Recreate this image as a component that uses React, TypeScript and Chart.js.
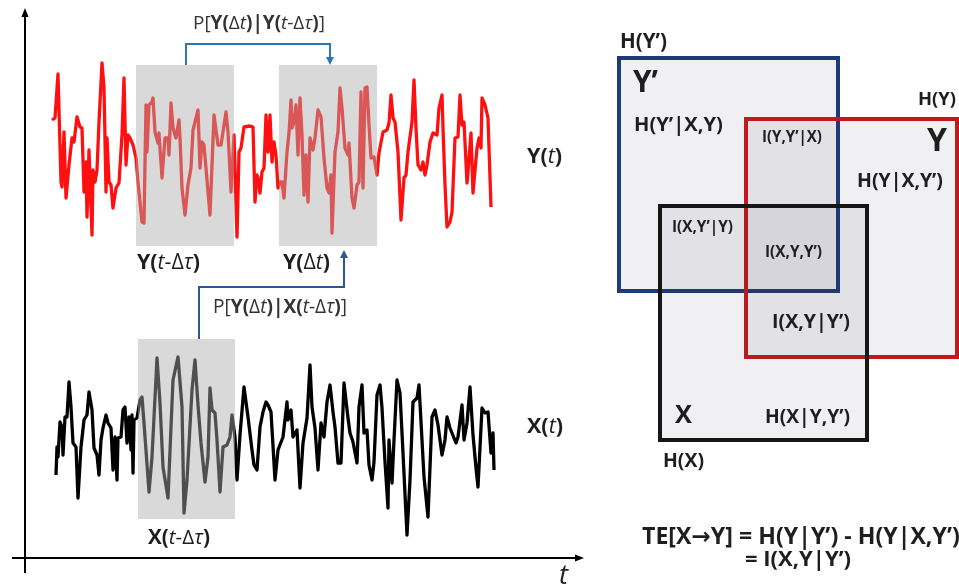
import { useEffect, useRef } from 'react';
import { Chart, registerables } from 'chart.js';

Chart.register(...registerables);

// ---- Data: time series (t = time step, v = signal level) ----
const redSeries: [number, number][] = [
  [2, 30], [5, 32], [8, 76], [11, -32], [12, -37], [14, 18], [16, -48], [19, -15], [22, 12], [24, 8],
  [27, 33], [30, 23], [32, 22], [34, -42], [36, -12], [37, -67], [39, 0], [42, -85], [43, -20], [45, -32],
  [47, -20], [49, 28], [52, 87], [54, 62], [56, -42], [57, 12], [59, -32], [61, -35], [63, -58], [66, -38],
  [69, -33], [72, 15], [74, 72], [76, -15], [78, 15], [80, 12], [83, 5], [86, -8], [88, -32], [92, -72],
  [94, -73], [96, 45], [97, -2], [99, 45], [102, 48], [103, 52], [105, 18], [108, 7], [109, 17], [112, -28],
  [115, 12], [118, 12], [119, -5], [121, 47], [123, 22], [126, 12], [129, 30], [130, 12], [132, -38], [135, -65],
  [138, -35], [141, -18], [143, 20], [146, 32], [148, 40], [150, -18], [152, 8], [154, 5], [160, -65], [164, 35],
  [168, 5], [171, 5], [176, 38], [178, 18], [181, -42], [184, 15], [187, -87], [189, -2], [191, 2], [194, 23],
  [200, 24], [203, 23], [205, -52], [207, -25], [208, -28], [210, -43], [212, -22], [214, -18], [216, 35], [218, -2],
  [220, 35], [222, -12], [224, 8], [226, -5], [228, -38], [230, -32], [232, -32], [234, -48], [237, -2], [239, 17],
  [241, 50], [242, 22], [244, 28], [246, 45], [248, -5], [250, 52], [252, 15], [254, -45], [256, -5], [258, -52],
  [260, 12], [263, 0], [265, 12], [268, 40], [271, 33], [274, -8], [277, -38], [279, -43], [281, -25], [282, -83],
  [285, -2], [288, 18], [290, 62], [292, 42], [295, 2], [298, -5], [299, 7], [302, -48], [304, -58], [307, -35],
  [309, -32], [311, 58], [313, -38], [315, 62], [317, 63], [319, 25], [321, -8], [324, -7], [327, -25], [329, -3],
  [333, 18], [337, 20], [339, 27], [341, 55], [343, 32], [345, 28], [348, -2], [351, -70], [354, -28], [356, -25],
  [358, -2], [362, 28], [364, 70], [366, 22], [368, -15], [371, -20], [373, -12], [375, -25], [377, -15], [380, 8],
  [383, 17], [387, 15], [389, 42], [392, 55], [393, 22], [395, -35], [397, -77], [400, -72], [402, -62], [405, 12],
  [408, 13], [410, 55], [412, 25], [414, 28], [417, -33], [418, -22], [421, 17], [423, -43], [427, 2], [429, 12],
  [431, 2], [432, 52], [435, 45], [438, 32], [441, -57],
];

const blackSeries: [number, number][] = [
  [6, -35], [7, -7], [8, -17], [10, 18], [12, 13], [13, -15], [15, 23], [17, 23], [19, 58], [21, 33],
  [23, -3], [26, -7], [28, -58], [31, -7], [34, 20], [37, 25], [39, 48], [42, 30], [44, -8], [47, -15],
  [49, -35], [51, 0], [53, 12], [56, 25], [58, 17], [61, 12], [63, -30], [65, 3], [67, -40], [68, 2],
  [71, 3], [73, 30], [75, 33], [77, -3], [79, 23], [81, -10], [82, 25], [83, -33], [84, 20], [87, 22],
  [90, 40], [92, 43], [94, 17], [99, -52], [102, -17], [107, 82], [110, 37], [113, -27], [118, -58], [123, 60],
  [128, 83], [132, 33], [134, -73], [137, -40], [142, 50], [145, 80], [148, 35], [151, -3], [155, -42], [158, -17],
  [160, 52], [162, 30], [165, 27], [167, 0], [170, -52], [173, -7], [177, -5], [180, 3], [182, 25], [185, 3],
  [187, -40], [190, 5], [194, 53], [198, 23], [202, -10], [204, -25], [207, -30], [210, 13], [213, 28], [216, 38],
  [218, 35], [221, 28], [225, -40], [228, -10], [233, 3], [237, 38], [238, 20], [241, 30], [243, 3], [247, 10],
  [250, -48], [253, -3], [257, 22], [260, 75], [262, 33], [265, 12], [268, -30], [271, 17], [274, 3], [277, 38],
  [280, 55], [283, 28], [285, 13], [288, -23], [291, -23], [294, 57], [298, 22], [300, 7], [303, -2], [307, -23],
  [309, 33], [312, 55], [314, 7], [317, 10], [319, -25], [322, -40], [324, -22], [327, 45], [330, 55], [332, 32],
  [335, -22], [338, -68], [339, 0], [342, -43], [344, 0], [347, 60], [350, 47], [353, -13], [357, -95], [360, -40],
  [363, 38], [367, 42], [369, 55], [372, 0], [374, -37], [378, -77], [382, 23], [385, 30], [388, 15], [392, -15],
  [395, 0], [397, 23], [400, 12], [402, 7], [406, -3], [408, 3], [412, 35], [414, 0], [417, 17], [420, 53],
  [423, 5], [426, -28], [428, -47], [432, 32], [435, 27], [438, 28], [441, -13], [443, 7], [444, -30],
];

// time windows (t from, t to) highlighted in grey
const yWindowPast: [number, number] = [86, 184];
const yWindowNow: [number, number] = [229, 327];
const xWindowPast: [number, number] = [88, 185];

// ---- Layout (diagram pixel units) ----
const FAMILY = '"Open Sans", "DejaVu Sans", sans-serif';
const TEXT = '#1e1e1e';
const VENN = [
  { x1: 619, y1: 58, x2: 838, y2: 291, color: '#1f3a78' },
  { x1: 746, y1: 119, x2: 957, y2: 357, color: '#c01a1f' },
  { x1: 660, y1: 206, x2: 867, y2: 440, color: '#161616' },
];

type Seg = [string, string];

// draws mixed-style text; font size is chosen so the text spans `width` px
function rich(ctx: CanvasRenderingContext2D, segs: Seg[], x: number, y: number, width: number, color = TEXT) {
  const fontAt = (s: string, size: number) => `${s.includes('i') ? 'italic ' : ''}${s.includes('b') ? 'bold ' : ''}${size}px ${FAMILY}`;
  const base = 20;
  let nat = 0;
  segs.forEach(([t, s]) => { ctx.font = fontAt(s, base); nat += ctx.measureText(t).width; });
  const size = base * width / nat;
  let cx = x;
  ctx.fillStyle = color;
  ctx.textBaseline = 'middle';
  ctx.textAlign = 'left';
  segs.forEach(([t, s]) => {
    ctx.font = fontAt(s, size);
    ctx.fillText(t, cx, y);
    cx += ctx.measureText(t).width;
  });
}

function arrowHead(ctx: CanvasRenderingContext2D, tx: number, ty: number, dir: 'up' | 'down' | 'right', len: number, half: number, color: string) {
  ctx.fillStyle = color;
  ctx.beginPath();
  ctx.moveTo(tx, ty);
  if (dir === 'up') { ctx.lineTo(tx - half, ty + len); ctx.lineTo(tx + half, ty + len); }
  if (dir === 'down') { ctx.lineTo(tx - half, ty - len); ctx.lineTo(tx + half, ty - len); }
  if (dir === 'right') { ctx.lineTo(tx - len, ty - half); ctx.lineTo(tx - len, ty + half); }
  ctx.closePath();
  ctx.fill();
}

const diagramPlugin = {
  id: 'diagram',
  beforeDatasetsDraw(chart: any) {
    const ctx: CanvasRenderingContext2D = chart.ctx;
    const X = (v: number) => chart.scales.xD.getPixelForValue(v);
    const Y = (v: number) => chart.scales.yD.getPixelForValue(v);
    ctx.save();
    ctx.strokeStyle = '#000';
    ctx.lineWidth = 2;
    ctx.beginPath();
    ctx.moveTo(X(25), Y(573));
    ctx.lineTo(X(25), Y(16));
    ctx.moveTo(X(12), Y(558));
    ctx.lineTo(X(576), Y(558));
    ctx.stroke();
    arrowHead(ctx, X(25), Y(8), 'up', 9, 3.5, '#000');
    arrowHead(ctx, X(584), Y(558), 'right', 9, 3.5, '#000');
    rich(ctx, [['t', 'i']], X(559), Y(576), 9, '#222');
    ctx.restore();
  },
  afterDatasetsDraw(chart: any) {
    const ctx: CanvasRenderingContext2D = chart.ctx;
    const X = (v: number) => chart.scales.xD.getPixelForValue(v);
    const Y = (v: number) => chart.scales.yD.getPixelForValue(v);
    const xT = chart.scales.xT, yR = chart.scales.yR, yB = chart.scales.yB;
    ctx.save();
    // grey windows drawn over the series
    ctx.fillStyle = 'rgba(173,173,173,0.46)';
    const box = (w: [number, number], ys: any, top: number, bottom: number) => {
      const l = xT.getPixelForValue(w[0]);
      const r = xT.getPixelForValue(w[1]);
      const t = ys.getPixelForValue(top);
      const b = ys.getPixelForValue(bottom);
      ctx.fillRect(l, t, r - l, b - t);
    };
    box(yWindowPast, yR, 85, -96);
    box(yWindowNow, yR, 85, -96);
    box(xWindowPast, yB, 101, -79);

    // connectors
    ctx.lineWidth = 2;
    ctx.strokeStyle = '#2e75b6';
    ctx.beginPath();
    ctx.moveTo(X(186), Y(65));
    ctx.lineTo(X(186), Y(44));
    ctx.lineTo(X(330), Y(44));
    ctx.lineTo(X(330), Y(58));
    ctx.stroke();
    arrowHead(ctx, X(330), Y(65), 'down', 8, 4, '#2e75b6');

    ctx.strokeStyle = '#2f5597';
    ctx.beginPath();
    ctx.moveTo(X(199), Y(339));
    ctx.lineTo(X(199), Y(287));
    ctx.lineTo(X(344), Y(287));
    ctx.lineTo(X(344), Y(258));
    ctx.stroke();
    arrowHead(ctx, X(344), Y(250), 'up', 8, 4, '#2f5597');

    // left-panel labels
    rich(ctx, [['P[', 'r'], ['Y(', 'b'], ['Δ', 'r'], ['t', 'i'], [')', 'b'], ['|', 'b'], ['Y(', 'b'], ['t', 'i'], ['-Δ', 'r'], ['τ', 'i'], [')', 'b'], [']', 'r']], X(193), Y(24), 132, '#333');
    rich(ctx, [['P[', 'r'], ['Y(', 'b'], ['Δ', 'r'], ['t', 'i'], [')', 'b'], ['|', 'b'], ['X(', 'b'], ['t', 'i'], ['-Δ', 'r'], ['τ', 'i'], [')', 'b'], [']', 'r']], X(213), Y(308), 134, '#333');
    rich(ctx, [['Y(', 'b'], ['t', 'i'], ['-Δ', 'r'], ['τ', 'i'], [')', 'b']], X(137), Y(263), 63);
    rich(ctx, [['Y(', 'b'], ['Δ', 'r'], ['t', 'i'], [')', 'b']], X(283), Y(263), 47);
    rich(ctx, [['X(', 'b'], ['t', 'i'], ['-Δ', 'r'], ['τ', 'i'], [')', 'b']], X(148), Y(538), 62);
    rich(ctx, [['Y(', 'b'], ['t', 'i'], [')', 'b']], X(527), Y(157), 35);
    rich(ctx, [['X(', 'b'], ['t', 'i'], [')', 'b']], X(527), Y(427), 36);

    // Venn squares
    VENN.forEach((r) => {
      const l = X(r.x1), t = Y(r.y1), w = X(r.x2) - l, h = Y(r.y2) - t;
      ctx.fillStyle = 'rgba(60,60,75,0.075)';
      ctx.fillRect(l, t, w, h);
      ctx.strokeStyle = r.color;
      ctx.lineWidth = 4;
      ctx.strokeRect(l, t, w, h);
    });

    const B = (s: string): Seg[] => [[s, 'b']];
    rich(ctx, B('H(Y’)'), X(620), Y(42), 47);
    rich(ctx, B('Y’'), X(633), Y(84), 25);
    rich(ctx, B('H(Y’|X,Y)'), X(634), Y(125), 89);
    rich(ctx, B('I(Y,Y’|X)'), X(762), Y(138), 60);
    rich(ctx, B('H(Y)'), X(918), Y(100), 38);
    rich(ctx, B('Y'), X(927), Y(142), 20);
    rich(ctx, B('H(Y|X,Y’)'), X(857), Y(181), 86);
    rich(ctx, B('I(X,Y’|Y)'), X(672), Y(228), 61);
    rich(ctx, B('I(X,Y,Y’)'), X(765), Y(253), 57);
    rich(ctx, B('I(X,Y|Y’)'), X(772), Y(322), 78);
    rich(ctx, B('X'), X(675), Y(416), 17);
    rich(ctx, B('H(X|Y,Y’)'), X(765), Y(418), 85);
    rich(ctx, B('H(X)'), X(663), Y(461), 41);
    rich(ctx, B('TE[X→Y] = H(Y|Y’) - H(Y|X,Y’)'), X(642), Y(537), 318);
    rich(ctx, B('= I(X,Y|Y’)'), X(745), Y(560), 106);
    ctx.restore();
  },
};

export default function App() {
  const ref = useRef<HTMLCanvasElement | null>(null);
  useEffect(() => {
    if (!ref.current) return;
    const chart = new Chart(ref.current, {
      type: 'scatter',
      data: {
        datasets: [
          {
            data: redSeries.map(([t, v]) => ({ x: t, y: v })),
            xAxisID: 'xT', yAxisID: 'yR',
            showLine: true, borderColor: '#ff1010', borderWidth: 3.3,
            pointRadius: 0, borderJoinStyle: 'round', tension: 0,
          },
          {
            data: blackSeries.map(([t, v]) => ({ x: t, y: v })),
            xAxisID: 'xT', yAxisID: 'yB',
            showLine: true, borderColor: '#000000', borderWidth: 3.3,
            pointRadius: 0, borderJoinStyle: 'round', tension: 0,
          },
        ],
      } as any,
      options: {
        animation: false,
        responsive: false,
        layout: { padding: 0 },
        plugins: { legend: { display: false }, tooltip: { enabled: false } },
        scales: {
          xT: { type: 'linear', min: -50, max: 909, display: false },
          yR: { type: 'linear', min: -438, max: 150, display: false },
          yB: { type: 'linear', min: -148, max: 440, display: false },
          xD: { type: 'linear', min: 0, max: 959, display: false },
          yD: { type: 'linear', min: 0, max: 588, reverse: true, display: false },
        },
      } as any,
      plugins: [diagramPlugin],
    });
    return () => chart.destroy();
  }, []);
  return (
    <div style={{ position: 'absolute', left: 0, top: 0, width: 959, height: 588, background: '#fff' }}>
      <canvas ref={ref} width={959} height={588} />
    </div>
  );
}
